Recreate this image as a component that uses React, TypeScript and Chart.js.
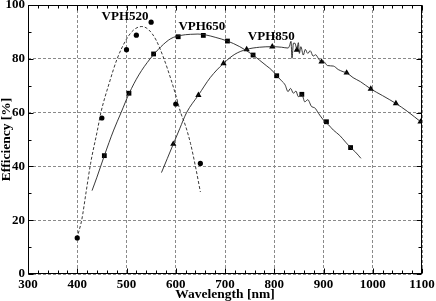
import React, { useEffect, useRef } from "react";
import { Chart, registerables } from "chart.js";
Chart.register(...registerables);

const FONT = "'Liberation Serif', 'Times New Roman', serif";

// VPH520 fitted curve (dashed)
const curve520Wl = [402, 409, 418, 427, 441, 448, 465, 481, 500, 515, 531, 545, 560, 576, 590, 600, 610, 620, 630, 640, 650];
const curve520Eff = [15, 20, 30.5, 41, 53.5, 60, 71, 80, 87.3, 90.8, 92, 90.8, 87, 80, 72.5, 66.5, 60, 55, 48.5, 40, 30.5];
// VPH520 measured points
const pts520Wl = [400, 450, 500, 520, 550, 600, 650];
const pts520Eff = [13.4, 58, 83.4, 88.8, 93.6, 63.2, 41.1];

// VPH650 curve
const curve650Wl = [430, 440, 455, 474, 489, 505, 525, 548, 570, 590, 610, 630, 645, 660, 680, 705, 730, 757, 770, 785, 795, 805, 815, 822, 828, 833, 839, 844, 849, 856, 862, 868, 876, 882, 890, 900, 910, 920, 933, 945, 955, 965, 976];
const curve650Eff = [31, 36, 44, 53.5, 60, 67, 74, 80, 84.5, 87.5, 88.7, 89.1, 89.2, 88.9, 88, 86.6, 84.5, 81.4, 79.5, 77.3, 75.8, 73.7, 71.8, 70.3, 67.8, 69, 67.2, 68, 65.9, 66.8, 64, 64.8, 62.2, 61.8, 59.7, 57.2, 55.5, 53.5, 51.5, 49, 47, 45.3, 43];
const pts650Wl = [455, 505, 555, 605, 656, 705, 757, 805, 856, 906, 955];
const pts650Eff = [44, 67.2, 81.8, 88.2, 88.7, 86.6, 81.4, 73.7, 66.8, 56.6, 47];

// VPH850 curve
const curve850Wl = [571, 583, 595, 608, 622, 646, 670, 697, 720, 744, 770, 796, 815, 828, 831, 834, 836, 839, 842, 846, 849, 851, 854, 859, 863, 868, 873, 879, 884, 890, 893, 896, 900, 908, 920, 930, 940, 947, 960, 975, 996, 1020, 1047, 1070, 1100];
const curve850Eff = [37.7, 43, 48.3, 54, 60, 66.5, 73, 78.3, 81.7, 83.5, 84.3, 84.5, 84.3, 84, 84.8, 86.5, 80.2, 85.8, 85.8, 83.5, 86, 82, 84.5, 81.4, 83.5, 82, 83, 81, 81.5, 80, 79.3, 78.7, 79, 77.5, 77.3, 76, 75.2, 74.8, 73, 71.5, 68.8, 66.3, 63.4, 60.5, 56.2];
const pts850Wl = [595, 646, 697, 744, 796, 846, 896, 947, 996, 1047, 1097];
const pts850Eff = [48.3, 66.5, 78.3, 83.5, 84.5, 83.3, 78.9, 74.8, 68.8, 63.4, 56.6];

const seriesLabels = ["VPH520", "VPH650", "VPH850"];
const labelAnchorWl = [497, 653, 794];
const labelAnchorEff = [95.5, 92.1, 88.2];

const xTicksMin = 300, xTicksMax = 1100, xStep = 100, xMinor = 20;
const yTicksMin = 0, yTicksMax = 100, yStep = 20, yMinor = 10;

const zip = (xs: number[], ys: number[]) => xs.map((x, i) => ({ x, y: ys[i] }));

const framePlugin = {
  id: "frame",
  afterDatasetsDraw(chart: any) {
    const { ctx, chartArea: a, scales } = chart;
    const xs = scales.x, ys = scales.y;
    ctx.save();
    ctx.strokeStyle = "#000";
    ctx.lineWidth = 1;
    const L = Math.round(a.left) + 0.5, R = Math.round(a.right) - 0.5;
    const T = Math.round(a.top) + 0.5, B = Math.round(a.bottom) - 0.5;
    ctx.strokeRect(L, T, R - L, B - T);
    ctx.beginPath();
    for (let v = xTicksMin; v <= xTicksMax; v += xMinor) {
      const p = Math.round(xs.getPixelForValue(v)) + 0.5;
      const len = v % xStep === 0 ? 5 : 3;
      ctx.moveTo(p, B); ctx.lineTo(p, B - len);
      ctx.moveTo(p, T); ctx.lineTo(p, T + len);
    }
    for (let v = yTicksMin; v <= yTicksMax; v += yMinor) {
      const p = Math.round(ys.getPixelForValue(v)) + 0.5;
      const len = v % yStep === 0 ? 5 : 3;
      ctx.moveTo(L, p); ctx.lineTo(L + len, p);
      ctx.moveTo(R, p); ctx.lineTo(R - len, p);
    }
    ctx.stroke();
    ctx.fillStyle = "#000";
    ctx.font = `bold 13px ${FONT}`;
    ctx.textAlign = "center";
    ctx.textBaseline = "middle";
    seriesLabels.forEach((t, i) => {
      ctx.fillText(t, xs.getPixelForValue(labelAnchorWl[i]), ys.getPixelForValue(labelAnchorEff[i]));
    });
    ctx.restore();
  },
};

export default function App() {
  const ref = useRef<HTMLCanvasElement>(null);
  useEffect(() => {
    document.body.style.margin = "0";
    const lineBase = {
      showLine: true,
      pointRadius: 0,
      borderColor: "#222",
      borderWidth: 0.9,
      cubicInterpolationMode: "monotone" as const,
      fill: false,
    };
    const ptsBase = {
      showLine: false,
      backgroundColor: "#000",
      borderColor: "#000",
      borderWidth: 0,
    };
    const tickFont = { family: FONT, weight: "bold", size: 13 };
    const titleFont = { family: FONT, weight: "bold", size: 13.5, lineHeight: 1 };
    const chart = new Chart(ref.current!, {
      type: "scatter",
      data: {
        datasets: [
          { ...lineBase, data: zip(curve520Wl, curve520Eff), borderDash: [3, 2] },
          { ...ptsBase, data: zip(pts520Wl, pts520Eff), pointStyle: "circle", pointRadius: 2.6 },
          { ...lineBase, data: zip(curve650Wl, curve650Eff) },
          { ...ptsBase, data: zip(pts650Wl, pts650Eff), pointStyle: "rect", pointRadius: 3.4 },
          { ...lineBase, data: zip(curve850Wl, curve850Eff) },
          { ...ptsBase, data: zip(pts850Wl, pts850Eff), pointStyle: "triangle", pointRadius: 3.6 },
        ] as any,
      },
      options: {
        animation: false,
        responsive: false,
        devicePixelRatio: 1,
        layout: { padding: { top: 5, right: 14, left: 0, bottom: 0 } },
        plugins: { legend: { display: false }, tooltip: { enabled: false } },
        scales: {
          x: {
            type: "linear",
            min: xTicksMin,
            max: xTicksMax,
            ticks: { stepSize: xStep, color: "#000", font: tickFont, padding: 3, maxRotation: 0, callback: (v: any) => String(v) },
            grid: { color: "#8a8a8a", lineWidth: 1, drawTicks: false },
            border: { display: false, dash: [3, 2] },
            title: { display: true, text: "Wavelength [nm]", color: "#000", font: titleFont, padding: 0 },
            afterFit: (s: any) => { s.height = 27; s.paddingLeft = 0; s.paddingRight = 0; },
          },
          y: {
            type: "linear",
            min: yTicksMin,
            max: yTicksMax,
            ticks: { stepSize: yStep, color: "#000", font: tickFont, padding: 3, callback: (v: any) => String(v) },
            grid: { color: "#8a8a8a", lineWidth: 1, drawTicks: false },
            border: { display: false, dash: [3, 2] },
            title: { display: true, text: "Efficiency [%]", color: "#000", font: titleFont, padding: 0 },
            afterFit: (s: any) => { s.width = 28; s.paddingTop = 0; s.paddingBottom = 0; },
          },
        },
      } as any,
      plugins: [framePlugin],
    });
    return () => chart.destroy();
  }, []);
  return (
    <div style={{ width: 436, height: 301, background: "#fff" }}>
      <canvas ref={ref} width={436} height={301} style={{ display: "block" }} />
    </div>
  );
}
